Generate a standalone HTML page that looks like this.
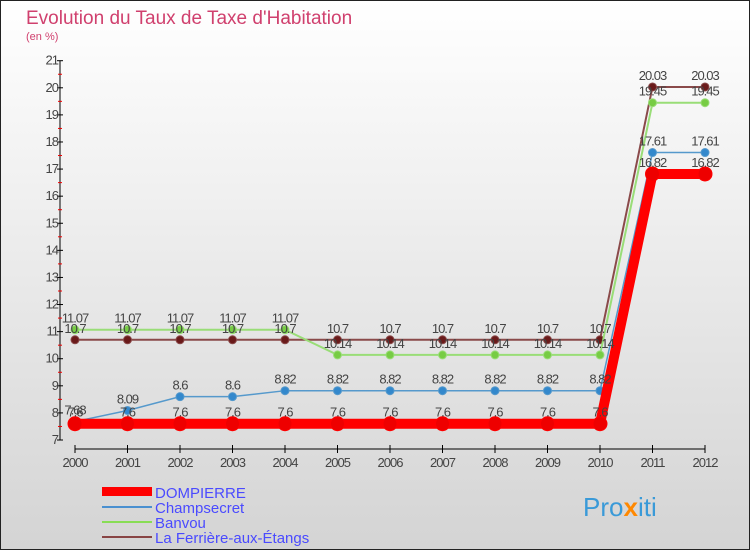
<!DOCTYPE html>
<html><head><meta charset="utf-8"><style>
body{margin:0;width:750px;height:550px;overflow:hidden;font-family:"Liberation Sans",sans-serif}
</style></head><body>
<svg id="c" width="750" height="550" xmlns="http://www.w3.org/2000/svg">
<defs><linearGradient id="bg" x1="0" y1="0" x2="0" y2="1"><stop offset="0" stop-color="#ffffff"/><stop offset="1" stop-color="#d4d4d4"/></linearGradient></defs>
<rect x="0.5" y="0.5" width="749" height="549" fill="url(#bg)" stroke="#222"/>
<text x="26" y="24" font-size="19" fill="#d0406e">Evolution du Taux de Taxe d'Habitation</text>
<text x="26" y="40" font-size="11" fill="#d0406e">(en %)</text>
<g id="axes"></g><g id="series"></g><g id="labels"></g>
<g>
<rect x="102" y="487" width="50" height="9" fill="#ff0000"/>
<text x="155" y="498" font-size="15" fill="#4a4aff">DOMPIERRE</text>
<line x1="102" y1="507" x2="152" y2="507" stroke="#4a90d0" stroke-width="2"/>
<text x="155" y="513" font-size="15" fill="#4a4aff">Champsecret</text>
<line x1="102" y1="522" x2="152" y2="522" stroke="#88dd55" stroke-width="2"/>
<text x="155" y="528" font-size="15" fill="#4a4aff">Banvou</text>
<line x1="102" y1="537" x2="152" y2="537" stroke="#884444" stroke-width="2"/>
<text x="155" y="543" font-size="15" fill="#4a4aff">La Ferrière-aux-Étangs</text>
</g>
<text x="583" y="516" font-size="26" fill="#3a9ad8">Pro<tspan fill="#ff8800" font-weight="bold">x</tspan>iti</text>
</svg>
<script>
const years=[2000,2001,2002,2003,2004,2005,2006,2007,2008,2009,2010,2011,2012];
const dompierre=[7.6,7.6,7.6,7.6,7.6,7.6,7.6,7.6,7.6,7.6,7.6,16.82,16.82];
const champsecret=[7.68,8.09,8.6,8.6,8.82,8.82,8.82,8.82,8.82,8.82,8.82,17.61,17.61];
const banvou=[11.07,11.07,11.07,11.07,11.07,10.14,10.14,10.14,10.14,10.14,10.14,19.45,19.45];
const ferriere=[10.7,10.7,10.7,10.7,10.7,10.7,10.7,10.7,10.7,10.7,10.7,20.03,20.03];
const yTicks=[7,8,9,10,11,12,13,14,15,16,17,18,19,20,21];
const NS="http://www.w3.org/2000/svg";
const xS=i=>75+i*52.5;
const yS=v=>440-(v-7)*(379.3/14);
function mk(t,a,p){const e=document.createElementNS(NS,t);for(const k in a)e.setAttribute(k,a[k]);document.getElementById(p).appendChild(e);return e;}
const ax=mk('line',{x1:60,y1:yS(21),x2:60,y2:yS(7),stroke:'#000'},'axes');


yTicks.forEach(v=>{
 mk('line',{x1:57,x2:63,y1:yS(v),y2:yS(v),stroke:'#000'},'axes');
 if(v<21)mk('line',{x1:58,x2:62,y1:yS(v+0.5),y2:yS(v+0.5),stroke:'#e00'},'axes');
 const t=mk('text',{x:58,y:yS(v)+4,'font-size':13,fill:'#444','text-anchor':'end','letter-spacing':'-1'},'axes');
 t.textContent=v;
 
 
});
const xa=mk('line',{x1:xS(0),x2:xS(12),y1:449,y2:449,stroke:'#000'},'axes');


years.forEach((y,i)=>{
 mk('line',{x1:xS(i),x2:xS(i),y1:445,y2:453,stroke:'#000'},'axes');
 const t=mk('text',{x:xS(i),y:467,'font-size':13,fill:'#444','text-anchor':'middle','letter-spacing':'-1'},'axes');
 t.textContent=y;
 
 
});
function series(vals,name,col,lw,r,dot,lblDy){
 const pts=vals.map((v,i)=>xS(i)+','+yS(v)).join(' ');
 const pl=mk('polyline',{points:pts,fill:'none',stroke:col,'stroke-width':lw},'series');
 
 
 vals.forEach((v,i)=>{
  const c=mk('circle',{cx:xS(i),cy:yS(v),r:r,fill:dot,stroke:col,'stroke-width':1},'series');
  
  
  const t=mk('text',{x:xS(i),y:yS(v)+lblDy,'font-size':13,fill:'#444','text-anchor':'middle','letter-spacing':'-1'},'labels');
  t.textContent=v;
  
  
 });
}
series(ferriere,'ferriere','#8a4a4a',2,4,'#6a1a1a',-7);
series(banvou,'banvou','#99dd77',2,4,'#77cc44',-7);
series(champsecret,'champsecret','#5599cc',1.5,4,'#3388cc',-7);
series(dompierre,'dompierre','#ff0000',10,7,'#ee0000',-7);
</script>
</body></html>
